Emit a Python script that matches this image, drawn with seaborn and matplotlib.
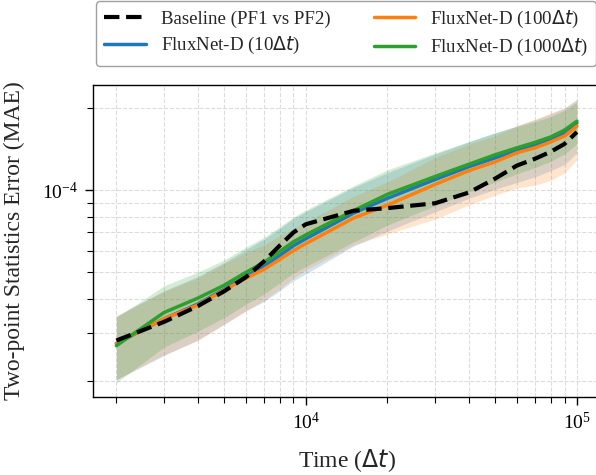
import numpy as np
import pandas as pd
import matplotlib
matplotlib.use("Agg")
import matplotlib.pyplot as plt
import seaborn as sns

# ---- data ----
time = [2000, 3000, 4000, 5000, 6000, 7000, 8000, 9000, 10000, 15000,
        20000, 30000, 40000, 50000, 60000, 70000, 80000, 90000, 100000]

baseline_mean = [2.82, 3.30, 3.77, 4.27, 4.80, 5.48, 6.26, 7.00, 7.50, 8.40,
                 8.59, 8.95, 9.80, 11.02, 12.28, 13.01, 13.80, 14.74, 16.30]

d10_mean = [2.75, 3.385, 3.835, 4.34, 4.84, 5.26, 5.76, 6.26, 6.64, 8.24,
            9.33, 10.93, 12.18, 13.12, 13.91, 14.62, 15.37, 16.15, 17.56]
d10_sd = [0.72, 0.90, 1.00, 1.10, 1.22, 1.35, 1.48, 1.60, 1.70, 2.00,
          2.25, 2.60, 2.85, 3.05, 3.25, 3.45, 3.60, 3.75, 3.90]

d100_mean = [2.75, 3.385, 3.80, 4.31, 4.76, 5.13, 5.57, 6.01, 6.37, 7.90,
             8.81, 10.49, 11.78, 12.69, 13.68, 14.26, 14.99, 15.76, 17.12]
d100_sd = [0.72, 0.88, 0.98, 1.08, 1.15, 1.18, 1.22, 1.24, 1.26, 1.60,
           1.90, 2.65, 2.95, 3.10, 3.50, 3.85, 4.15, 4.20, 4.20]

d1000_mean = [2.70, 3.57, 4.03, 4.49, 5.00, 5.44, 5.96, 6.47, 6.86, 8.41,
              9.65, 11.21, 12.43, 13.46, 14.26, 14.93, 15.63, 16.56, 17.85]
d1000_sd = [0.72, 0.90, 0.98, 1.07, 1.18, 1.27, 1.38, 1.50, 1.60, 1.95,
            2.20, 2.45, 2.60, 2.75, 2.80, 2.85, 2.90, 3.00, 3.10]

scale = 1e-5
labels = ["Baseline (PF1 vs PF2)", r"FluxNet-D (10$\Delta t$)",
          r"FluxNet-D (100$\Delta t$)", r"FluxNet-D (1000$\Delta t$)"]
colors = ["black", "#1f77b4", "#ff7f0e", "#2ca02c"]

# ---- style ----
sns.set_theme(style="ticks")
plt.rcParams["font.family"] = ["Liberation Serif", "DejaVu Sans"]
plt.rcParams["mathtext.fontset"] = "dejavusans"
plt.rcParams["axes.edgecolor"] = "black"
plt.rcParams["xtick.color"] = "black"
plt.rcParams["ytick.color"] = "black"

fig = plt.figure(figsize=(5.96, 4.75), dpi=100)
ax = fig.add_axes([0.1566, 0.1648, 0.85, 0.656])

t = np.array(time, dtype=float)
series = [
    (labels[1], colors[1], d10_mean, d10_sd),
    (labels[2], colors[2], d100_mean, d100_sd),
    (labels[3], colors[3], d1000_mean, d1000_sd),
]

# bands
for lab, col, m, s in series:
    m = np.array(m) * scale
    s = np.array(s) * scale
    ax.fill_between(t, m - s, m + s, color=col, alpha=0.2, linewidth=0, zorder=1)

# baseline
df_b = pd.DataFrame({"t": t, "v": np.array(baseline_mean) * scale})
sns.lineplot(data=df_b, x="t", y="v", ax=ax, color="black", lw=3,
             linestyle="--", label=labels[0], zorder=5)

for lab, col, m, s in series:
    df = pd.DataFrame({"t": t, "v": np.array(m) * scale})
    sns.lineplot(data=df, x="t", y="v", ax=ax, color=col, lw=2.5,
                 label=lab, zorder=3)

ax.set_xscale("log")
ax.set_yscale("log")

ax.grid(True, which="both", linestyle="--", color="#dcdcdc", linewidth=0.8)
ax.set_axisbelow(True)

ax.set_xlabel(r"Time ($\Delta t$)", fontsize=17, labelpad=10)
ax.set_ylabel("Two-point Statistics Error (MAE)", fontsize=17, labelpad=12)
ax.tick_params(axis="both", which="major", labelsize=14, length=6, width=1, pad=5)
ax.tick_params(axis="both", which="minor", length=4, width=0.8)
for sp in ax.spines.values():
    sp.set_linewidth(1.0)
    sp.set_color("black")

ax.get_legend().remove()
handles, labs = ax.get_legend_handles_labels()
fig.legend(handles, labs, loc="upper center", bbox_to_anchor=(0.581, 1.018),
           ncol=2, fontsize=13.6, frameon=True, edgecolor="#888888",
           fancybox=True, handlelength=2.2, columnspacing=2.3,
           labelspacing=0.4)

fig.savefig("out.png", dpi=100)
